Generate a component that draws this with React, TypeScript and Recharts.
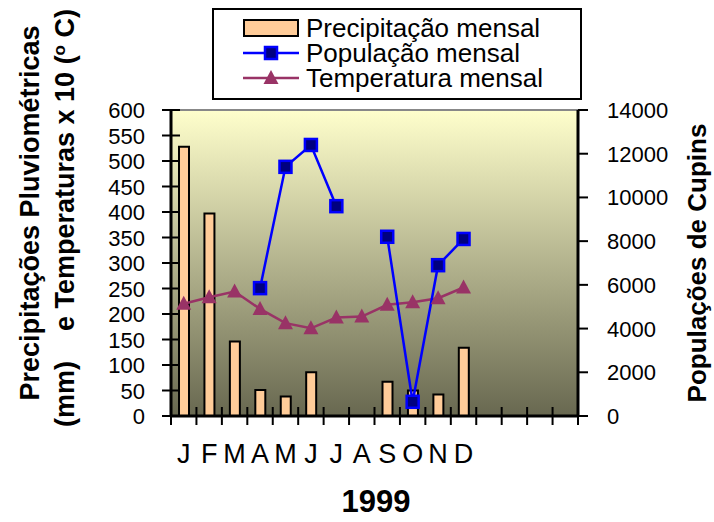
import {
  ComposedChart,
  Bar,
  Line,
  XAxis,
  YAxis,
  CartesianGrid,
  ReferenceLine,
  Legend,
} from "recharts";

const MONTHS = ["J", "F", "M", "A", "M", "J", "J", "A", "S", "O", "N", "D", "", "", "", ""];
const PRECIPITATION = [528, 397, 146, 51, 38, 86, null, null, 67, 50, 42, 134, null, null, null, null];
const POPULATION = [null, null, null, 5850, 11400, 12400, 9600, null, 8200, 650, 6900, 8100, null, null, null, null];
const TEMPERATURE = [220, 233, 244, 210, 182, 172, 193, 195, 218, 223, 231, 252, null, null, null, null];
const LEFT_TICKS = [0, 50, 100, 150, 200, 250, 300, 350, 400, 450, 500, 550, 600];
const RIGHT_TICKS = [0, 2000, 4000, 6000, 8000, 10000, 12000, 14000];
const SERIES_NAMES = ["Precipitação mensal", "População mensal", "Temperatura mensal"];

const W = 714;
const H = 522;
const PLOT_LEFT = 171;
const PLOT_RIGHT = 578;
const PLOT_TOP = 110;
const PLOT_BOTTOM = 416;
const STEP = (PLOT_RIGHT - PLOT_LEFT) / MONTHS.length;

const BAR_FILL = "#FFCC99";
const POP_BLUE = "#0000FF";
const POP_NAVY = "#000080";
const TEMP_PURPLE = "#993366";
const FONT = "Arial, 'Liberation Sans', sans-serif";

const data = MONTHS.map((m, i) => ({
  m,
  precip: PRECIPITATION[i],
  pop: POPULATION[i],
  temp: TEMPERATURE[i],
}));

function XTick(props: any) {
  const { x, y, payload, index } = props;
  const half = STEP / 2;
  return (
    <g>
      <line x1={x - half} x2={x - half} y1={y - 9} y2={y + 9} stroke="#000" strokeWidth={2} />
      {index === MONTHS.length - 1 && (
        <line x1={x + half} x2={x + half} y1={y - 9} y2={y + 9} stroke="#000" strokeWidth={2} />
      )}
      <text x={x} y={y + 47} textAnchor="middle" fontSize={27} fill="#000">
        {payload.value}
      </text>
    </g>
  );
}

function LeftTick(props: any) {
  const { x, y, payload } = props;
  return (
    <g>
      <line x1={x - 9} x2={x + 9} y1={y} y2={y} stroke="#000" strokeWidth={2} />
      <text x={x - 26} y={y + 8} textAnchor="end" fontSize={22} fill="#000">
        {payload.value}
      </text>
    </g>
  );
}

function RightTick(props: any) {
  const { x, y, payload } = props;
  return (
    <g>
      <line x1={x} x2={x + 10} y1={y} y2={y} stroke="#000" strokeWidth={2} />
      <text x={x + 29} y={y + 8} textAnchor="start" fontSize={22} fill="#000">
        {payload.value}
      </text>
    </g>
  );
}

function SquareDot(props: any) {
  const { cx, cy, index } = props;
  if (cx == null || cy == null) return <g key={`sq-${index}`} />;
  return (
    <rect key={`sq-${index}`} x={cx - 6} y={cy - 6} width={12} height={12} fill={POP_NAVY} stroke={POP_BLUE} strokeWidth={2.5} />
  );
}

function TriangleDot(props: any) {
  const { cx, cy, index } = props;
  if (cx == null || cy == null) return <g key={`tr-${index}`} />;
  return (
    <path key={`tr-${index}`} d={`M${cx},${cy - 8} L${cx + 7.5},${cy + 6} L${cx - 7.5},${cy + 6} Z`} fill={TEMP_PURPLE} />
  );
}

function LeftTitle() {
  return (
    <g fontWeight="bold" fontSize={27} fill="#000">
      <text x={39} y={213} transform="rotate(-90 39 213)" textAnchor="middle">
        Precipitações Pluviométricas
      </text>
      <text x={74} y={218} transform="rotate(-90 74 218)" textAnchor="middle" style={{ whiteSpace: "pre" }}>
        {"(mm)    e Temperaturas x 10 ("}
        <tspan fontSize={17} dy={-9}>o</tspan>
        <tspan dy={9}>{" C)"}</tspan>
      </text>
    </g>
  );
}

function RightTitle() {
  return (
    <text x={706} y={263} transform="rotate(-90 706 263)" textAnchor="middle" fontWeight="bold" fontSize={26} fill="#000">
      Populações de Cupins
    </text>
  );
}

function YearLabel() {
  return (
    <text x={376} y={512} textAnchor="middle" fontWeight="bold" fontSize={31} fill="#000">
      1999
    </text>
  );
}

function LegendBox() {
  const rows = [18, 43, 68];
  return (
    <div style={{ width: 370, height: 92, border: "2px solid #000", boxSizing: "border-box", background: "#fff" }}>
      <svg width={366} height={88} style={{ display: "block" }}>
        <rect x={30} y={rows[0] - 8} width={54} height={16} fill={BAR_FILL} stroke="#000" strokeWidth={2} />
        <line x1={29} x2={85} y1={rows[1]} y2={rows[1]} stroke={POP_BLUE} strokeWidth={2.5} />
        <rect x={51} y={rows[1] - 6} width={12} height={12} fill={POP_NAVY} stroke={POP_BLUE} strokeWidth={2.5} />
        <line x1={29} x2={85} y1={rows[2]} y2={rows[2]} stroke={TEMP_PURPLE} strokeWidth={2.5} />
        <path d={`M57,${rows[2] - 8} L64.5,${rows[2] + 6} L49.5,${rows[2] + 6} Z`} fill={TEMP_PURPLE} />
        {SERIES_NAMES.map((name, i) => (
          <text key={name} x={92} y={rows[i] + 9} fontSize={26} fill="#000" fontFamily={FONT}>
            {name}
          </text>
        ))}
      </svg>
    </div>
  );
}

export default function App() {
  return (
    <div style={{ position: "absolute", left: 0, top: 0, width: W, height: H, background: "#fff", fontFamily: FONT }}>
      <ComposedChart
        width={W}
        height={H}
        data={data}
        margin={{ top: PLOT_TOP, right: 0, bottom: 0, left: 0 }}
        style={{ fontFamily: FONT }}
      >
        <defs>
          <linearGradient id="plotBg" x1="0" y1="0" x2="0" y2="1">
            <stop offset="0%" stopColor="#FFFFCC" />
            <stop offset="100%" stopColor="#686850" />
          </linearGradient>
        </defs>
        <CartesianGrid yAxisId="left" horizontal={false} vertical={false} fill="url(#plotBg)" fillOpacity={1} stroke="none" />
        <XAxis
          dataKey="m"
          height={H - PLOT_BOTTOM}
          interval={0}
          tickSize={0}
          tickMargin={0}
          tickLine={false}
          axisLine={{ stroke: "#000", strokeWidth: 3 }}
          tick={<XTick />}
          label={YearLabel}
        />
        <YAxis
          yAxisId="left"
          width={PLOT_LEFT}
          domain={[0, 600]}
          ticks={LEFT_TICKS}
          interval={0}
          tickSize={0}
          tickMargin={0}
          tickLine={false}
          axisLine={{ stroke: "#000", strokeWidth: 3 }}
          tick={<LeftTick />}
          label={LeftTitle}
        />
        <YAxis
          yAxisId="right"
          orientation="right"
          width={W - PLOT_RIGHT}
          domain={[0, 14000]}
          ticks={RIGHT_TICKS}
          interval={0}
          tickSize={0}
          tickMargin={0}
          tickLine={false}
          axisLine={{ stroke: "#000", strokeWidth: 3 }}
          tick={<RightTick />}
          label={RightTitle}
        />
        <ReferenceLine yAxisId="left" y={600} stroke="#888888" strokeWidth={2} />
        <Bar
          yAxisId="left"
          dataKey="precip"
          barSize={10}
          fill={BAR_FILL}
          stroke="#000"
          strokeWidth={2}
          isAnimationActive={false}
        />
        <Line
          yAxisId="left"
          dataKey="temp"
          stroke={TEMP_PURPLE}
          strokeWidth={2.5}
          dot={TriangleDot}
          activeDot={false}
          isAnimationActive={false}
        />
        <Line
          yAxisId="right"
          dataKey="pop"
          stroke={POP_BLUE}
          strokeWidth={2.5}
          dot={SquareDot}
          activeDot={false}
          isAnimationActive={false}
        />
        <Legend
          layout="horizontal"
          verticalAlign="middle"
          align="center"
          content={LegendBox}
          wrapperStyle={{ left: 212, top: 8, width: 370, height: 92 }}
        />
      </ComposedChart>
    </div>
  );
}
